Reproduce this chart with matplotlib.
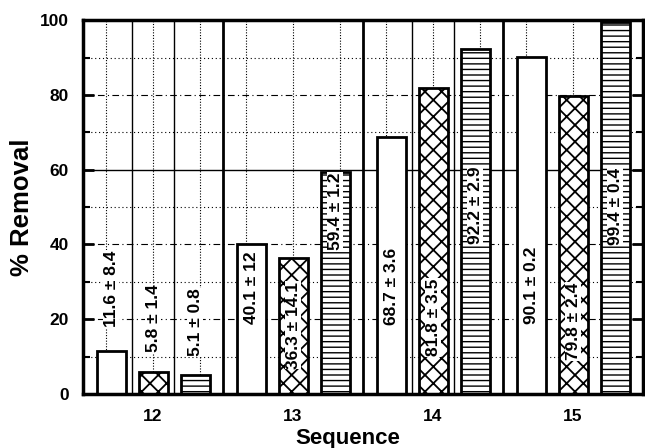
import numpy as np
import matplotlib
matplotlib.use("Agg")
import matplotlib.pyplot as plt

plt.rcParams['font.family'] = ['Liberation Sans', 'DejaVu Sans']
plt.rcParams['font.weight'] = 'bold'
plt.rcParams['hatch.linewidth'] = 1.3

# -------------------------------
# DATA
# -------------------------------
sequences = ["12", "13", "14", "15"]
series_a = [11.6, 40.1, 68.7, 90.1]      # open bars
series_b = [5.8, 36.3, 81.8, 79.8]       # cross-hatched bars
series_c = [5.1, 59.4, 92.2, 99.4]       # striped bars
labels_a = ["11.6 ± 8.4", "40.1 ± 12", "68.7 ± 3.6", "90.1 ± 0.2"]
labels_b = ["5.8 ± 1.4", "36.3 ± 14.1", "81.8 ± 3.5", "79.8 ± 2.4"]
labels_c = ["5.1 ± 0.8", "59.4 ± 1.2", "92.2 ± 2.9", "99.4 ± 0.4"]
# vertical centre of each annotation (data units)
label_y_a = [28.1, 28.5, 28.7, 29.1]
label_y_b = [20.2, 18.4, 20.5, 19.4]
label_y_c = [19.1, 48.8, 50.5, 50.3]

# -------------------------------
# FIGURE
# -------------------------------
fig = plt.figure(figsize=(6.45, 4.48), dpi=100)
ax = fig.add_axes([0.1287, 0.1205, 0.8683, 0.8345])

x = np.arange(len(sequences))
offs = 0.3
width = 0.207

# background grid, scanned-look
for yv in [10, 30, 50, 70, 90]:
    ax.axhline(yv, color='k', lw=0.8, ls=(0, (1, 2.5)), zorder=0)
for yv in [20, 40, 80]:
    ax.axhline(yv, color='k', lw=0.8, ls=(0, (6, 3, 1, 3)), zorder=0)
ax.axhline(60, color='k', lw=1.0, zorder=0)
for g in x:
    for d in (-1/3, 0, 1/3):
        ax.axvline(g + d, color='k', lw=0.8, ls=(0, (1, 1.5)), zorder=0)
    if g in (0, 2):
        for d in (-0.15, 0.15):
            ax.axvline(g + d, color='k', lw=1.0, zorder=0)
for g in x[:-1]:
    ax.axvline(g + 0.5, color='k', lw=2.0, zorder=1)

ax.bar(x - offs, series_a, width, facecolor='white', edgecolor='black', lw=2, zorder=2)
ax.bar(x, series_b, width, facecolor='white', edgecolor='black', lw=2, hatch='xx', zorder=2)
plt.rcParams['hatch.linewidth'] = 1.0
ax.bar(x + offs, series_c, width, facecolor='white', edgecolor='black', lw=2, hatch='---', zorder=2)

for xs, ys, labs in [(x - offs, label_y_a, labels_a), (x, label_y_b, labels_b), (x + offs, label_y_c, labels_c)]:
    for xi, yi, lab in zip(xs, ys, labs):
        ax.text(xi, yi, lab, rotation=90, ha='center', va='center',
                fontsize=12.5, fontweight='bold', zorder=3,
                bbox=dict(facecolor='white', edgecolor='none', pad=0.5))

ax.set_xlim(-0.5, 3.5)
ax.set_ylim(0, 100)
ax.set_xticks(x)
ax.set_xticklabels(sequences)
ax.set_yticks([0, 20, 40, 60, 80, 100])
ax.set_yticks([10, 30, 50, 70, 90], minor=True)
ax.tick_params(axis='x', length=0, pad=11, labelsize=12.5)
ax.tick_params(axis='y', which='major', direction='in', length=8, width=2, pad=10,
               labelsize=12.5, right=True)
ax.tick_params(axis='y', which='minor', direction='in', length=5, width=1.5, right=True)
for s in ax.spines.values():
    s.set_linewidth(2.5)

ax.set_ylabel("% Removal", fontsize=18.5, fontweight='bold')
ax.yaxis.set_label_coords(-0.088, 0.5)
ax.set_xlabel("Sequence", fontsize=16, fontweight='bold')
ax.xaxis.set_label_coords(0.473, -0.09)

fig.savefig("out.png", dpi=100)
